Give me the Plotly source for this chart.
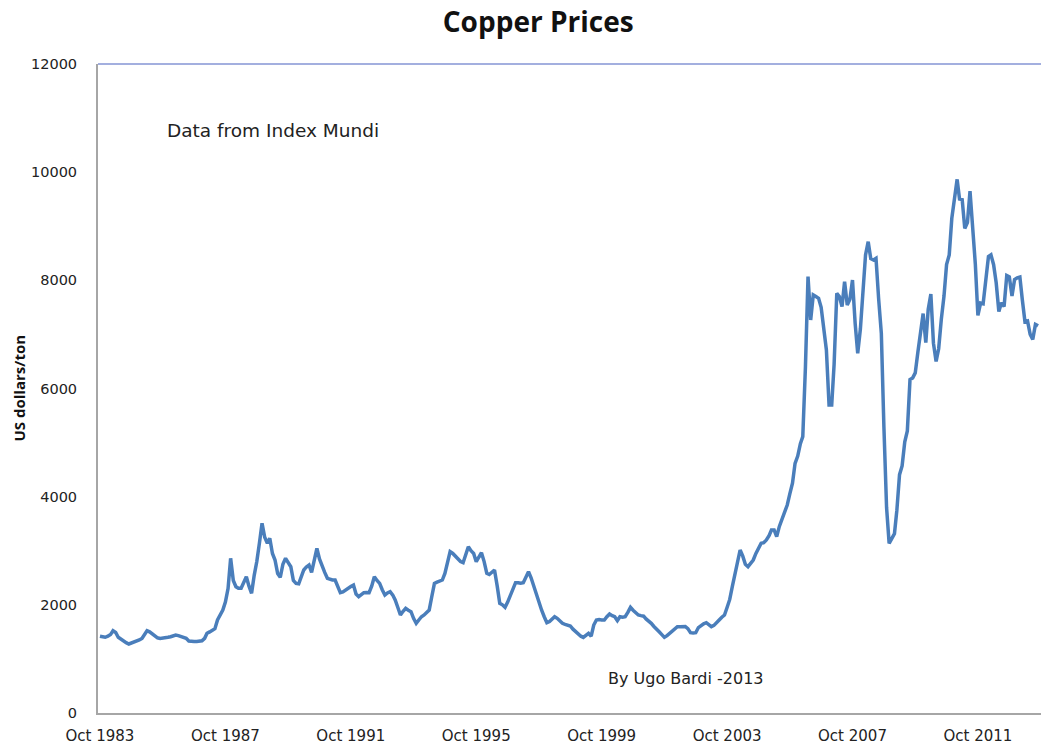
import pandas as pd
import plotly.graph_objects as go

# Monthly copper price, US$/ton, Oct 1983 .. Sep 2013
p1983 = [1420, 1410, 1400]
p1984 = [1420, 1450, 1522, 1490, 1400, 1362, 1320, 1300, 1276, 1290, 1318, 1330]
p1985 = [1350, 1380, 1440, 1522, 1500, 1461, 1420, 1390, 1380, 1385, 1380, 1400]
p1986 = [1410, 1430, 1442, 1430, 1415, 1411, 1380, 1330, 1318, 1320, 1322, 1325]
p1987 = [1335, 1380, 1473, 1500, 1530, 1560, 1720, 1800, 1904, 2050, 2300, 2860]
p1988 = [2450, 2335, 2305, 2305, 2420, 2520, 2350, 2213, 2550, 2800, 3150, 3508]
p1989 = [3250, 3138, 3230, 2950, 2829, 2580, 2508, 2750, 2860, 2780, 2705, 2450]
p1990 = [2397, 2390, 2500, 2644, 2700, 2736, 2600, 2850, 3045, 2850, 2705, 2600]
p1991 = [2490, 2470, 2460, 2459, 2350, 2225, 2240, 2274, 2320, 2340, 2366, 2200]
p1992 = [2150, 2200, 2225, 2230, 2225, 2350, 2520, 2450, 2397, 2280, 2181, 2220]
p1993 = [2243, 2180, 2089, 1950, 1812, 1880, 1935, 1900, 1873, 1750, 1658, 1720]
p1994 = [1780, 1812, 1860, 1904, 2150, 2397, 2420, 2440, 2459, 2582, 2800, 2983]
p1995 = [2950, 2903, 2850, 2800, 2779, 2950, 3075, 3000, 2950, 2798, 2900, 2964]
p1996 = [2800, 2582, 2560, 2600, 2644, 2350, 2028, 2000, 1953, 2050, 2181, 2300]
p1997 = [2409, 2409, 2400, 2409, 2500, 2613, 2500, 2335, 2200, 2058, 1900, 1780]
p1998 = [1670, 1690, 1740, 1781, 1750, 1700, 1658, 1640, 1620, 1609, 1550, 1503]
p1999 = [1460, 1420, 1399, 1440, 1473, 1420, 1627, 1720, 1730, 1720, 1720, 1780]
p2000 = [1831, 1800, 1780, 1707, 1780, 1770, 1780, 1860, 1953, 1900, 1850, 1812]
p2001 = [1800, 1790, 1740, 1700, 1658, 1600, 1540, 1503, 1450, 1399, 1430, 1470]
p2002 = [1500, 1550, 1596, 1596, 1600, 1600, 1560, 1485, 1480, 1485, 1580, 1620]
p2003 = [1650, 1670, 1640, 1596, 1620, 1680, 1720, 1770, 1812, 1950, 2100, 2335]
p2004 = [2550, 2780, 3014, 2900, 2750, 2705, 2780, 2829, 2950, 3050, 3138, 3150]
p2005 = [3199, 3280, 3384, 3384, 3261, 3450, 3569, 3700, 3846, 4050, 4250, 4617]
p2006 = [4750, 4980, 5109, 6400, 8068, 7267, 7729, 7700, 7668, 7500, 7144, 6712]
p2007 = [5695, 5695, 6450, 7760, 7700, 7513, 7976, 7544, 7650, 8006, 7205, 6651]
p2008 = [7100, 7850, 8469, 8715, 8400, 8376, 8407, 7650, 7021, 5294, 3800, 3138]
p2009 = [3220, 3315, 3750, 4407, 4569, 5014, 5216, 6165, 6196, 6288, 6676, 6982]
p2010 = [7386, 6848, 7463, 7745, 6838, 6499, 6735, 7284, 7709, 8292, 8469, 9147]
p2011 = [9556, 9867, 9503, 9493, 8960, 9067, 9650, 9000, 8300, 7350, 7580, 7566]
p2012 = [8040, 8441, 8471, 8289, 7955, 7423, 7584, 7516, 8088, 8062, 7711, 8013]
p2013 = [8047, 8061, 7645, 7234, 7249, 7000, 6907, 7186, 7159]

prices = (p1983 + p1984 + p1985 + p1986 + p1987 + p1988 + p1989 + p1990 + p1991
          + p1992 + p1993 + p1994 + p1995 + p1996 + p1997 + p1998 + p1999 + p2000
          + p2001 + p2002 + p2003 + p2004 + p2005 + p2006 + p2007 + p2008 + p2009
          + p2010 + p2011 + p2012 + p2013)
months = pd.date_range("1983-10-01", periods=len(prices), freq="MS")

tick_dates = ["1983-10-01", "1987-10-01", "1991-10-01", "1995-10-01",
              "1999-10-01", "2003-10-01", "2007-10-01", "2011-10-01"]
tick_text = ["Oct 1983", "Oct 1987", "Oct 1991", "Oct 1995",
             "Oct 1999", "Oct 2003", "Oct 2007", "Oct 2011"]
y_ticks = [0, 2000, 4000, 6000, 8000, 10000, 12000]
y_text = ["0", "2000", "4000", "6000", "8000", "10000", "12000"]

fig = go.Figure()
fig.add_trace(go.Scatter(x=months, y=prices, mode="lines",
                         line=dict(color="#4a7ebb", width=3.5), hoverinfo="x+y"))

fig.update_layout(
    width=1041, height=746,
    margin=dict(l=98, r=0, t=64, b=33),
    paper_bgcolor="white", plot_bgcolor="white",
    showlegend=False,
    title=dict(text="<b>Copper Prices</b>", xref="container", x=0.517, xanchor="center",
               yref="container", y=0.970, yanchor="middle",
               font=dict(family="Open Sans", size=28, color="#111111")),
    xaxis=dict(type="date", range=["1983-09-08", "2013-10-05"],
               tickvals=tick_dates, ticktext=tick_text,
               showgrid=False, zeroline=False, ticks="",
               showline=True, linecolor="#a6a6a6", linewidth=2,
               ticklabelstandoff=8,
               tickfont=dict(family="DejaVu Sans", size=15, color="#222222")),
    yaxis=dict(range=[0, 12000], tickvals=y_ticks, ticktext=y_text,
               showgrid=False, zeroline=False, ticks="",
               showline=True, linecolor="#a6a6a6", linewidth=2,
               ticklabelstandoff=16,
               tickfont=dict(family="DejaVu Sans", size=14.5, color="#222222")),
    shapes=[dict(type="line", xref="paper", yref="paper", x0=0, x1=1, y0=1, y1=1,
                 line=dict(color="#8595d5", width=1.5))],
    annotations=[
        dict(text="<b>US dollars/ton</b>", xref="paper", yref="paper", x=0, y=0.5,
             xshift=-80, xanchor="center", yanchor="middle", textangle=-90,
             showarrow=False, font=dict(family="Open Sans", size=15, color="#111111")),
        dict(text="Data from Index Mundi", xref="paper", yref="paper", x=0.071, y=0.897,
             xanchor="left", yanchor="middle", showarrow=False,
             font=dict(family="DejaVu Sans", size=18.5, color="#222222")),
        dict(text="By Ugo Bardi -2013", xref="paper", yref="paper", x=0.5387, y=0.0524,
             xanchor="left", yanchor="middle", showarrow=False,
             font=dict(family="DejaVu Sans", size=16, color="#222222")),
    ],
)

fig.write_html("out.html", config={"displayModeBar": False},
               post_script="document.body.style.margin='0';")
